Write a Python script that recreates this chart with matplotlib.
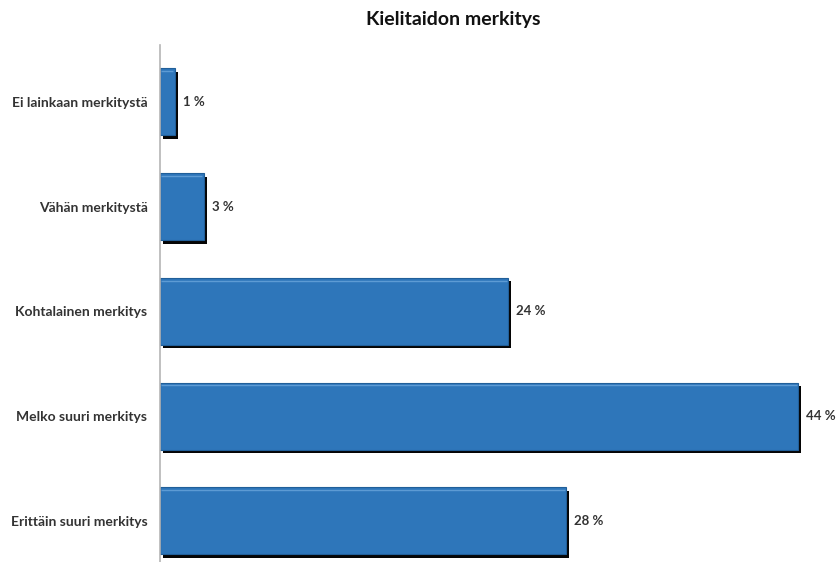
'''
Kielitaidon merkitys - vaakapylväskaavio
'''
import matplotlib
matplotlib.use('Agg')
import matplotlib.pyplot as plt
import matplotlib.patheffects as pe

categories = ['Ei lainkaan merkitystä', 'Vähän merkitystä', 'Kohtalainen merkitys',
              'Melko suuri merkitys', 'Erittäin suuri merkitys']
values = [1, 3, 24, 44, 28]
value_labels = ['1 %', '3 %', '24 %', '44 %', '28 %']

plt.rcParams['font.family'] = ['Lato', 'DejaVu Sans']

W, H = 837, 562
fig = plt.figure(figsize=(W / 100, H / 100), dpi=100)
ax = fig.add_axes([160 / W, 0, 1 - 160 / W, (H - 45) / H])

pos = list(range(len(categories)))
bars = ax.barh(pos, values, height=0.64, color='#2e76ba', edgecolor='#215f99', linewidth=0.8,
               path_effects=[pe.SimplePatchShadow(offset=(2.5, -2.5), shadow_rgbFace='#050505', alpha=1.0),
                             pe.Normal()])

# vaalea yläreuna
for b in bars:
    ax.plot([b.get_x() + 0.1, b.get_x() + b.get_width() - 0.1],
            [b.get_y() + 0.025, b.get_y() + 0.025], color='#5d9bd4', lw=1.0, solid_capstyle='butt')

for p, v, lab in zip(pos, values, value_labels):
    ax.annotate(lab, (v, p), xytext=(6, 0), textcoords='offset points', va='center', ha='left',
                fontsize=9.5, fontweight='bold', color='#333333', annotation_clip=False)

ax.set_ylim(4.393, -0.544)
ax.set_xlim(0, (W - 160) / 14.5)
ax.set_yticks(pos)
ax.set_yticklabels(categories, fontsize=10, fontweight='bold', color='#333333')
ax.tick_params(axis='y', length=0, pad=9)
ax.set_xticks([])
for s in ['top', 'right', 'bottom']:
    ax.spines[s].set_visible(False)
ax.spines['left'].set_color('#b5b5b5')
ax.spines['left'].set_linewidth(1.2)

fig.text(453 / W, 1 - 20 / H, 'Kielitaidon merkitys', ha='center', va='center',
         fontsize=14, fontweight='bold', color='#111111')

fig.savefig('out.png', dpi=100)
